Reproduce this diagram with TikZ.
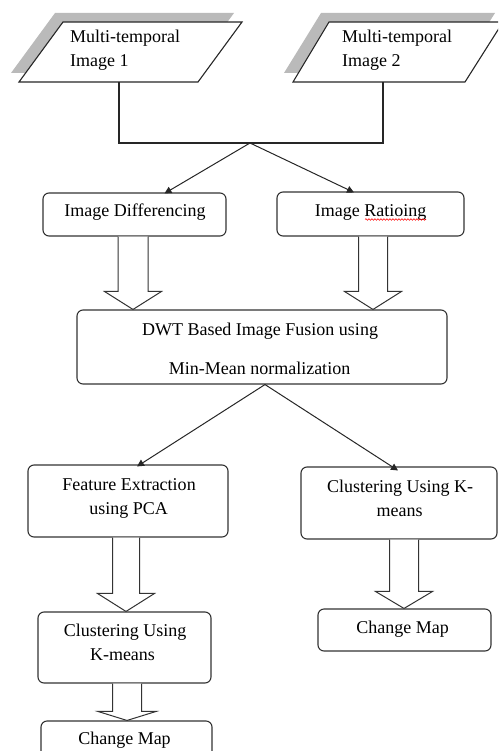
\documentclass[tikz,border=0pt]{standalone}
\usepackage{fontspec}
\setmainfont{Liberation Serif}
\usetikzlibrary{arrows.meta,calc,decorations.pathmorphing}
\newcommand\blockarr[6]{% from, to, centre x, shaft half width, head half width, head length
  \draw[barrow] let \p1=(#1.south), \p2=(#2.north) in
    (#3pt-#4pt,\y1) -- (#3pt-#4pt,\y2+#6pt) -- (#3pt-#5pt,\y2+#6pt) -- (#3pt,\y2)
    -- (#3pt+#5pt,\y2+#6pt) -- (#3pt+#4pt,\y2+#6pt) -- (#3pt+#4pt,\y1);
}
\begin{document}
\begin{tikzpicture}[x=1pt,y=-1pt,
  box/.style={draw=black!80,line width=1.1pt,rounded corners=6pt,inner sep=0pt,fill=white},
  para/.style={draw=black!85,line width=1.1pt,fill=white,line join=miter},
  pshadow/.style={fill=black!27},
  conn/.style={draw=black!85,line width=1pt,-{Triangle[length=7pt,width=7pt]}},
  bracket/.style={draw=black!85,line width=2.3pt},
  barrow/.style={draw=black!80,line width=1pt,fill=white,line join=miter},
  txt/.style={font=\fontsize{18}{22}\selectfont,inner sep=0pt,anchor=base},
  ltxt/.style={txt,anchor=base west}
]
\useasboundingbox (0,0) rectangle (498,751);
\clip (0,0) rectangle (498,751);

% input parallelograms with shadows
\fill[pshadow] (55,13) -- (234,13) -- (190,73) -- (11,73) -- cycle;
\draw[para] (63,22) -- (242,22) -- (198,82) -- (19,82) -- cycle;
\fill[pshadow] (321,13) -- (495,13) -- (457,73) -- (284,73) -- cycle;
\draw[para] (329,22) -- (503,22) -- (465,82) -- (293,82) -- cycle;
\node[ltxt] (p1a) at (70,43) {Multi-temporal};
\node[ltxt] (p1b) at (70,67) {Image 1};
\node[ltxt] (p2a) at (342,43) {Multi-temporal};
\node[ltxt] (p2b) at (342,67) {Image 2};

\coordinate (in1) at (119,82);
\coordinate (in2) at (383,82);
\coordinate (j1) at (119,143);
\coordinate (j2) at (383,143);
\coordinate (jm) at (250,143);
\draw[bracket] (in1) -- (j1) -- (j2) -- (in2);

% boxes
\node[box,minimum width=183pt,minimum height=43pt] (diff) at (134.5,214.5) {};
\node[box,minimum width=187pt,minimum height=44pt] (ratio) at (370.5,214) {};
\node[box,minimum width=370pt,minimum height=74pt] (dwt) at (262,347) {};
\node[box,minimum width=200pt,minimum height=72pt] (feat) at (128,501) {};
\node[box,minimum width=196pt,minimum height=72pt] (clus1) at (399,503) {};
\node[box,minimum width=173pt,minimum height=71pt] (clus2) at (124.5,647.5) {};
\node[box,minimum width=173pt,minimum height=42pt] (map1) at (404.5,630) {};
\node[box,minimum width=171pt,minimum height=50pt] (map2) at (126.5,746) {};

% texts
\node[txt] (diffT) at (135,216) {Image Differencing};
\node[txt] (ratioT) at (370.5,216) {Image Ratioing};
\draw[red,line width=0.6pt,decorate,decoration={snake,segment length=3pt,amplitude=0.8pt}]
  (365,219.5) -- (426,219.5);
\node[txt] (dwtA) at (260,335.5) {DWT Based Image Fusion using};
\node[txt] (dwtB) at (259.5,374) {Min-Mean normalization};
\node[txt] (featA) at (129,490.5) {Feature Extraction};
\node[txt] (featB) at (128.7,514) {using PCA};
\node[txt] (clus1A) at (400,492) {Clustering Using K-};
\node[txt] (clus1B) at (399.5,516) {means};
\node[txt] (clus2A) at (125,636.5) {Clustering Using};
\node[txt] (clus2B) at (122.5,660.5) {K-means};
\node[txt] (map1T) at (402.5,633.5) {Change Map};
\node[txt] (map2T) at (124.5,744.5) {Change Map};

% thin connectors
\draw[conn] (jm) -- ([xshift=30pt,yshift=-1pt]diff.north);
\draw[conn] (jm) -- ([xshift=-16.5pt,yshift=-1pt]ratio.north);
\draw[conn] ([xshift=3pt]dwt.south) -- ([xshift=9pt,yshift=-2pt]feat.north);
\draw[conn] ([xshift=3pt]dwt.south) -- ([xshift=-1pt,yshift=-4pt]clus1.north);

% block arrows
\blockarr{diff}{dwt}{133}{15}{28.5}{18}
\blockarr{ratio}{dwt}{373}{14.5}{28.5}{18}
\blockarr{feat}{clus2}{126}{13.5}{28.5}{18}
\blockarr{clus1}{map1}{404}{14.5}{28.5}{17}
\blockarr{clus2}{map2}{127}{14.5}{29}{9}
\end{tikzpicture}
\end{document}
